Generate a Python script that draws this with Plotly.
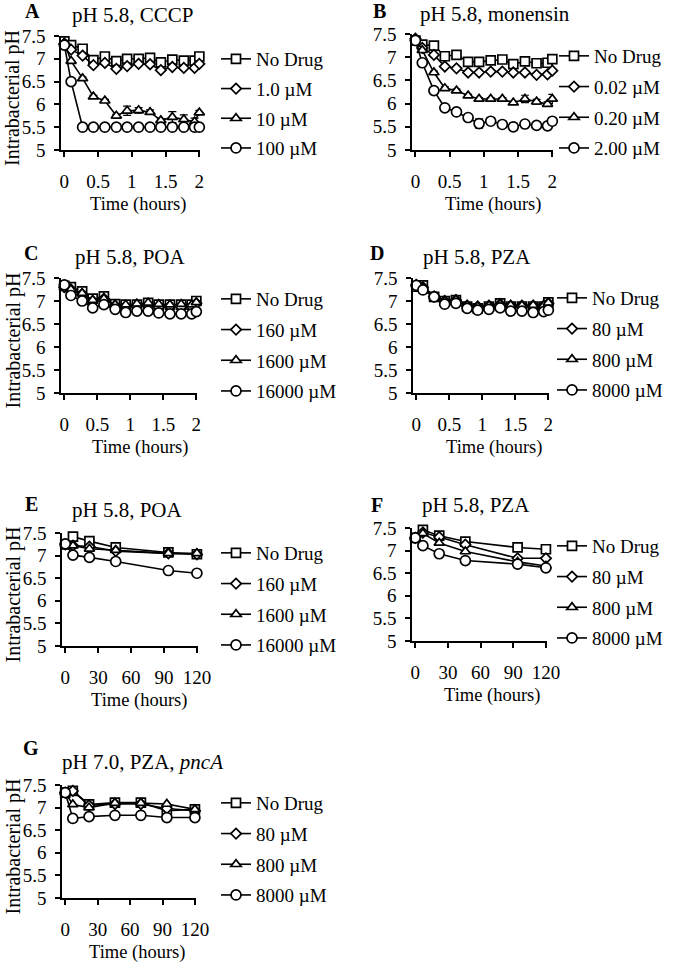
import plotly.graph_objects as go

# ---------------- data ----------------
T_SHORT = [0, 0.1, 0.27, 0.43, 0.6, 0.77, 0.93, 1.1, 1.27, 1.43, 1.6, 1.77, 1.93, 2.0]
T_LONG = [0, 7, 22, 46, 94, 120]
T_LONG_G = [0, 7, 22, 46, 70, 94, 120]

X_TICKS_SHORT = [0, 0.5, 1, 1.5, 2]
X_TICKS_LONG = [0, 30, 60, 90, 120]
Y_TICKS = [5, 5.5, 6, 6.5, 7, 7.5]
Y_TICK_LABELS = ["5", "5.5", "6", "6.5", "7", "7.5"]

# Panel A: pH 5.8, CCCP
A_LABELS = ["No Drug", "1.0 µM", "10 µM", "100 µM"]
A_NO_DRUG = [7.38, 7.30, 7.22, 6.97, 7.05, 6.95, 7.00, 7.00, 7.02, 6.92, 6.98, 6.96, 6.96, 7.05]
A_1_0 = [7.33, 7.20, 7.07, 6.86, 6.91, 6.78, 6.84, 6.89, 6.88, 6.75, 6.82, 6.80, 6.80, 6.89]
A_10 = [7.35, 6.95, 6.57, 6.17, 6.08, 5.75, 5.86, 5.87, 5.83, 5.65, 5.72, 5.67, 5.62, 5.82]
A_100 = [7.30, 6.50, 5.50, 5.50, 5.50, 5.50, 5.50, 5.50, 5.50, 5.50, 5.50, 5.50, 5.50, 5.50]
A_10_ERR = [0, 0, 0.03, 0.03, 0.03, 0.03, 0.10, 0.06, 0.05, 0.04, 0.12, 0.10, 0.08, 0.05]

# Panel B: pH 5.8, monensin
B_LABELS = ["No Drug", "0.02 µM", "0.20 µM", "2.00 µM"]
B_NO_DRUG = [7.36, 7.27, 7.25, 7.02, 7.05, 6.90, 6.90, 6.93, 6.95, 6.85, 6.91, 6.87, 6.88, 6.96]
B_0_02 = [7.40, 7.20, 7.05, 6.80, 6.76, 6.67, 6.67, 6.69, 6.69, 6.67, 6.67, 6.62, 6.63, 6.71]
B_0_20 = [7.40, 7.15, 6.67, 6.33, 6.28, 6.17, 6.10, 6.10, 6.10, 6.02, 6.10, 6.04, 5.99, 6.10]
B_2_00 = [7.36, 6.88, 6.28, 5.91, 5.82, 5.70, 5.57, 5.62, 5.55, 5.50, 5.56, 5.53, 5.52, 5.62]
B_0_20_ERR = [0, 0, 0.03, 0.03, 0.03, 0.03, 0.03, 0.03, 0.03, 0.03, 0.08, 0.05, 0.05, 0.10]
B_2_00_ERR = [0, 0, 0.03, 0.03, 0.03, 0.03, 0.10, 0.03, 0.05, 0.08, 0.03, 0.03, 0.03, 0.05]

# Panel C: pH 5.8, POA (hours)
C_LABELS = ["No Drug", "160 µM", "1600 µM", "16000 µM"]
C_NO_DRUG = [7.33, 7.30, 7.21, 7.05, 7.10, 6.93, 6.92, 6.92, 6.96, 6.92, 6.92, 6.92, 6.92, 7.00]
C_160 = [7.30, 7.25, 7.15, 7.00, 7.05, 6.90, 6.88, 6.88, 6.90, 6.87, 6.88, 6.87, 6.87, 6.95]
C_1600 = [7.30, 7.25, 7.17, 7.02, 7.05, 6.92, 6.92, 6.94, 6.96, 6.93, 6.92, 6.93, 6.92, 6.97]
C_16000 = [7.35, 7.12, 7.00, 6.85, 6.92, 6.82, 6.75, 6.78, 6.78, 6.74, 6.72, 6.72, 6.72, 6.77]

# Panel D: pH 5.8, PZA (hours)
D_LABELS = ["No Drug", "80 µM", "800 µM", "8000 µM"]
D_NO_DRUG = [7.31, 7.34, 7.09, 7.00, 7.02, 6.88, 6.84, 6.88, 6.95, 6.88, 6.88, 6.88, 6.88, 6.97]
D_80 = [7.35, 7.30, 7.10, 7.00, 7.02, 6.90, 6.88, 6.90, 6.93, 6.90, 6.90, 6.90, 6.90, 6.95]
D_800 = [7.35, 7.30, 7.10, 7.00, 7.03, 6.91, 6.88, 6.90, 6.93, 6.91, 6.90, 6.91, 6.90, 6.96]
D_8000 = [7.34, 7.24, 7.09, 6.93, 6.95, 6.84, 6.80, 6.82, 6.85, 6.78, 6.78, 6.75, 6.77, 6.80]

# Panel E: pH 5.8, POA (long)
E_LABELS = ["No Drug", "160 µM", "1600 µM", "16000 µM"]
E_NO_DRUG = [7.25, 7.42, 7.32, 7.18, 7.07, 7.03]
E_160 = [7.25, 7.22, 7.20, 7.10, 7.05, 7.03]
E_1600 = [7.25, 7.22, 7.15, 7.12, 7.05, 7.05]
E_16000 = [7.26, 7.01, 6.96, 6.87, 6.67, 6.61]

# Panel F: pH 5.8, PZA (long)
F_LABELS = ["No Drug", "80 µM", "800 µM", "8000 µM"]
F_NO_DRUG = [7.28, 7.46, 7.33, 7.20, 7.07, 7.03]
F_80 = [7.28, 7.40, 7.30, 7.13, 6.83, 6.83]
F_800 = [7.28, 7.38, 7.17, 6.98, 6.75, 6.66]
F_8000 = [7.28, 7.11, 6.93, 6.78, 6.70, 6.62]

# Panel G: pH 7.0, PZA, pncA (long)
G_LABELS = ["No Drug", "80 µM", "800 µM", "8000 µM"]
G_NO_DRUG = [7.33, 7.37, 7.07, 7.11, 7.11, 6.93, 6.96]
G_80 = [7.33, 7.37, 7.05, 7.08, 7.08, 6.98, 6.93]
G_800 = [7.33, 7.07, 7.00, 7.10, 7.10, 7.08, 6.96]
G_8000 = [7.33, 6.76, 6.80, 6.83, 6.83, 6.78, 6.78]
G_8000_ERR = [0, 0.08, 0.08, 0.03, 0.03, 0.03, 0.03]

X_TITLE = "Time (hours)"
Y_TITLE = "Intrabacterial pH"

PANELS = [
    dict(letter="A", title="pH 5.8, CCCP", t=T_SHORT, xt=X_TICKS_SHORT, labels=A_LABELS,
         series=[A_NO_DRUG, A_1_0, A_10, A_100], errs=[None, None, A_10_ERR, None]),
    dict(letter="B", title="pH 5.8, monensin", t=T_SHORT, xt=X_TICKS_SHORT, labels=B_LABELS,
         series=[B_NO_DRUG, B_0_02, B_0_20, B_2_00], errs=[None, None, B_0_20_ERR, B_2_00_ERR]),
    dict(letter="C", title="pH 5.8, POA", t=T_SHORT, xt=X_TICKS_SHORT, labels=C_LABELS,
         series=[C_NO_DRUG, C_160, C_1600, C_16000], errs=[None] * 4),
    dict(letter="D", title="pH 5.8, PZA", t=T_SHORT, xt=X_TICKS_SHORT, labels=D_LABELS,
         series=[D_NO_DRUG, D_80, D_800, D_8000], errs=[None] * 4),
    dict(letter="E", title="pH 5.8, POA", t=T_LONG, xt=X_TICKS_LONG, labels=E_LABELS,
         series=[E_NO_DRUG, E_160, E_1600, E_16000], errs=[None] * 4),
    dict(letter="F", title="pH 5.8, PZA", t=T_LONG, xt=X_TICKS_LONG, labels=F_LABELS,
         series=[F_NO_DRUG, F_80, F_800, F_8000], errs=[None] * 4),
    dict(letter="G", title="pH 7.0, PZA, <i>pncA</i>", t=T_LONG_G, xt=X_TICKS_LONG, labels=G_LABELS,
         series=[G_NO_DRUG, G_80, G_800, G_8000], errs=[None, None, None, G_8000_ERR]),
]

# ---------------- layout geometry (pixels) ----------------
W, H = 680, 962
FONT = "Liberation Serif"
# x-domain, y-domain (top, bottom), x range, title centre, letter pos,
# legend (left, top, gap), x-title centre x
GEOM = [
    dict(xd=(61, 200), yd=(36, 150), xr=(-0.05, 2.01), tc=(132, 15), lc=(32, 11), lg=(216, 40, 2), xtc=138),
    dict(xd=(412, 553), yd=(34, 150), xr=(-0.05, 2.01), tc=(495, 14), lc=(379, 11), lg=(554, 37, 3), xtc=493),
    dict(xd=(61, 197), yd=(278, 393), xr=(-0.05, 2.01), tc=(130, 257), lc=(31, 253), lg=(216, 280, 3), xtc=140),
    dict(xd=(413, 549), yd=(278, 393), xr=(-0.05, 2.01), tc=(477, 257), lc=(377, 253), lg=(552, 279, 3), xtc=494),
    dict(xd=(62, 198), yd=(533, 646), xr=(-3, 121), tc=(127, 510), lc=(31, 504), lg=(216, 534, 3), xtc=139),
    dict(xd=(412, 547), yd=(528, 641), xr=(-3, 121), tc=(476, 505), lc=(377, 505), lg=(552, 527, 3), xtc=492),
    dict(xd=(62, 196), yd=(785, 898), xr=(-3, 121), tc=(142, 762), lc=(31, 748), lg=(216, 784, 3), xtc=137),
]
Y_TITLE_X = 13
X_TITLE_DY = 54

SYMBOLS = ["square", "diamond", "triangle-up", "circle"]
SIZES = [9, 8, 9, 10]


def px(x):
    return x / W


def py(y):
    return 1 - y / H


fig = go.Figure()
annotations = []
layout = dict(
    width=W, height=H, autosize=False,
    margin=dict(l=0, r=0, t=0, b=0, pad=0, autoexpand=False),
    paper_bgcolor="white", plot_bgcolor="white",
    font=dict(family=FONT, size=19, color="black"),
    showlegend=True,
)

for i, (p, g) in enumerate(zip(PANELS, GEOM)):
    n = i + 1
    xa = "x" if n == 1 else f"x{n}"
    ya = "y" if n == 1 else f"y{n}"
    lg = "legend" if n == 1 else f"legend{n}"
    for j, (vals, err) in enumerate(zip(p["series"], p["errs"])):
        tr = dict(
            x=p["t"], y=vals, name=p["labels"][j], mode="lines+markers",
            xaxis=xa, yaxis=ya, legend=lg, legendgroup=f"p{n}s{j}",
            line=dict(color="black", width=1.6),
            marker=dict(symbol=SYMBOLS[j], size=SIZES[j], color="white",
                        line=dict(color="black", width=1.7)),
            cliponaxis=False,
        )
        if err is not None:
            tr["error_y"] = dict(type="data", array=err, visible=True,
                                 color="black", thickness=1.2, width=4)
        fig.add_trace(go.Scatter(**tr))

    axis_common = dict(
        showline=True, linecolor="black", linewidth=1.6, mirror=False,
        ticks="outside", ticklen=5, tickwidth=1.6, tickcolor="black",
        showgrid=False, zeroline=False, automargin=False,
        tickfont=dict(family=FONT, size=19, color="black"),
    )
    xkey = "xaxis" if n == 1 else f"xaxis{n}"
    ykey = "yaxis" if n == 1 else f"yaxis{n}"
    layout[xkey] = dict(
        axis_common, domain=[px(g["xd"][0]), px(g["xd"][1])], range=list(g["xr"]),
        anchor=ya, tickvals=p["xt"], ticklabelstandoff=8,
    )
    layout[ykey] = dict(
        axis_common, domain=[py(g["yd"][1]), py(g["yd"][0])], range=[5, 7.5],
        anchor=xa, tickvals=Y_TICKS, ticktext=Y_TICK_LABELS, ticklabelstandoff=5,
    )
    # x-axis title (offset to the right as in the original figure)
    annotations.append(dict(
        text=X_TITLE, x=px(g["xtc"]), y=py(g["yd"][1] + X_TITLE_DY), xref="paper", yref="paper",
        xanchor="center", yanchor="middle", showarrow=False,
        font=dict(family=FONT, size=18.5, color="black"),
    ))
    if i % 2 == 0:
        annotations.append(dict(
            text=Y_TITLE, textangle=-90,
            x=px(Y_TITLE_X), y=py((g["yd"][0] + g["yd"][1]) / 2 + 5), xref="paper", yref="paper",
            xanchor="center", yanchor="middle", showarrow=False,
            font=dict(family=FONT, size=20, color="black"),
        ))

    layout[lg] = dict(
        x=px(g["lg"][0]), y=py(g["lg"][1]), xanchor="left", yanchor="top",
        font=dict(family=FONT, size=19, color="black"), bgcolor="rgba(0,0,0,0)",
        tracegroupgap=g["lg"][2], itemwidth=30,
    )

    annotations.append(dict(
        text=p["title"], x=px(g["tc"][0]), y=py(g["tc"][1]), xref="paper", yref="paper",
        xanchor="center", yanchor="middle", showarrow=False,
        font=dict(family=FONT, size=21, color="black"),
    ))
    annotations.append(dict(
        text=f"<b>{p['letter']}</b>", x=px(g["lc"][0]), y=py(g["lc"][1]), xref="paper", yref="paper",
        xanchor="center", yanchor="middle", showarrow=False,
        font=dict(family=FONT, size=20, color="black"),
    ))

layout["annotations"] = annotations
fig.update_layout(**layout)
fig.write_html(
    "out.html",
    config={"displayModeBar": False},
    post_script="document.body.style.margin='0px';",
)
